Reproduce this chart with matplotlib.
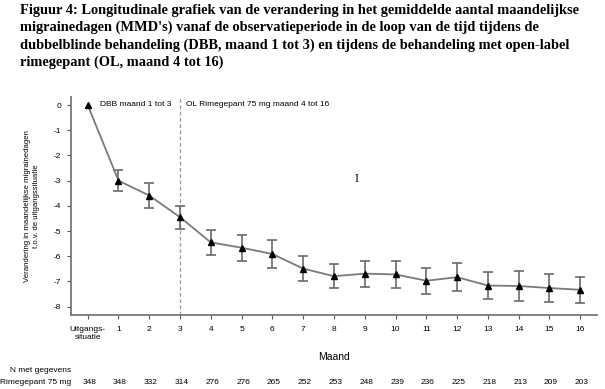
import numpy as np
import matplotlib.pyplot as plt

# data
months = list(range(0, 17))
month_labels = ['Uitgangs-\nsituatie'] + [str(m) for m in range(1, 17)]
mean_change = [0.0, -3.0, -3.59, -4.45, -5.45, -5.66, -5.91, -6.49, -6.79,
               -6.69, -6.72, -6.97, -6.83, -7.16, -7.18, -7.26, -7.33]
err_half = [0.0, 0.41, 0.48, 0.46, 0.49, 0.52, 0.54, 0.50, 0.47,
            0.51, 0.52, 0.52, 0.56, 0.52, 0.58, 0.54, 0.52]
n_patients = [348, 348, 332, 314, 276, 276, 265, 252, 253, 248, 239, 236,
              225, 218, 213, 209, 203]
y_ticks = [0, -1, -2, -3, -4, -5, -6, -7, -8]

title = ("Figuur 4: Longitudinale grafiek van de verandering in het gemiddelde aantal maandelijkse\n"
         "migrainedagen (MMD's) vanaf de observatieperiode in de loop van de tijd tijdens de\n"
         "dubbelblinde behandeling (DBB, maand 1 tot 3) en tijdens de behandeling met open-label\n"
         "rimegepant (OL, maand 4 tot 16)")

plt.rcParams['font.family'] = ['Liberation Sans', 'DejaVu Sans']

fig = plt.figure(figsize=(6.05, 3.89), dpi=100)
fig.text(0.033, 0.99, title, ha='left', va='top', family='Liberation Serif',
         fontweight='bold', fontsize=10.4, linespacing=1.38)

ax = fig.add_axes([0.117, 1 - 315 / 389, 0.87, (315 - 97) / 389])

# error bars (skip baseline)
ax.errorbar(months[1:], mean_change[1:], yerr=err_half[1:], fmt='none',
            ecolor='#6a6a6a', elinewidth=1.2, capsize=3.5, capthick=1.2, zorder=2)
ax.plot(months, mean_change, color='#7a7a7a', lw=1.3, zorder=3)
ax.plot(months, mean_change, ls='none', marker='^', ms=4.5, color='black', zorder=4)

ax.axvline(3, color='#999999', lw=0.9, ls=(0, (3, 2)), zorder=1)
ax.text(0.4, 0.02, 'DBB maand 1 tot 3', fontsize=6, va='center', ha='left')
ax.text(3.2, 0.02, 'OL Rimegepant 75 mg maand 4 tot 16', fontsize=6, va='center', ha='left')

# cursor artefact
ax.text(8.75, -2.95, 'I', fontsize=9, family='Liberation Serif', ha='center', va='center')

ax.set_xlim(-0.55, 16.55)
ax.set_ylim(-8.33, 0.32)
ax.set_xticks(months)
ax.set_xticklabels(month_labels, fontsize=6)
ax.set_yticks(y_ticks)
ax.set_yticklabels([str(v) for v in y_ticks], fontsize=6)
ax.tick_params(length=3, width=0.8, color='#555555', pad=4)
ax.tick_params(axis='x', pad=5)

for s in ['top', 'right']:
    ax.spines[s].set_visible(False)
for s in ['left', 'bottom']:
    ax.spines[s].set_color('#777777')
    ax.spines[s].set_linewidth(1.3)

ax.set_ylabel('Verandering in maandelijkse migrainedagen\nt.o.v. de uitgangssituatie',
              fontsize=5.6, labelpad=10, linespacing=1.3)
ax.set_xlabel('Maand', fontsize=7.5, labelpad=8)

# number of patients row
fig.text(0.117, 1 - 371 / 389, 'N met gegevens', fontsize=6, ha='right', va='center')
fig.text(0.117, 1 - 383 / 389, 'Rimegepant 75 mg', fontsize=6, ha='right', va='center')
inv = fig.transFigure.inverted()
for m, n in zip(months, n_patients):
    x_disp = ax.transData.transform((m + 0.05, 0))[0]
    fig.text(inv.transform((x_disp, 0))[0], 1 - 383 / 389, str(n), fontsize=6,
             ha='center', va='center')

fig.savefig('out.png', dpi=100)
